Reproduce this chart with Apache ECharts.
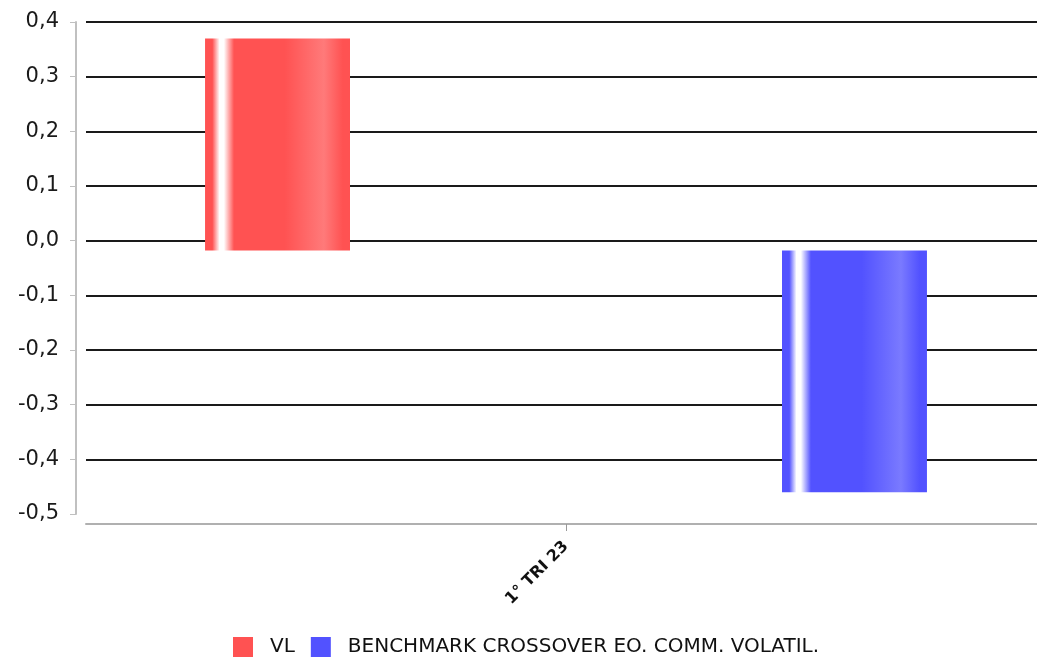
<!DOCTYPE html>
<html>
<head>
<meta charset="utf-8">
<script src="https://cdn.jsdelivr.net/npm/echarts@6/dist/echarts.min.js"></script>
<style>
  html, body { margin: 0; padding: 0; background: #ffffff; }
  #chart { width: 1037px; height: 660px; }
</style>
</head>
<body>
<div id="chart"></div>
<script>
// Quarterly performance: fund (VL) vs. its benchmark
const categories = ['1° TRI 23'];
const vlValues = [0.37];
const benchmarkValues = [-0.46];
const seriesNames = ['VL', 'BENCHMARK CROSSOVER EO. COMM. VOLATIL.'];
// bars are drawn up from this floor value rather than from zero
const BAR_BASE = -0.018;
const yTicks = { min: -0.5, max: 0.4, interval: 0.1 };

const FONT = 'DejaVu Sans, Liberation Sans, sans-serif';

function barGradient(main, light) {
  return {
    type: 'linear', x: 0, y: 0, x2: 1, y2: 0,
    colorStops: [
      { offset: 0.00, color: main },
      { offset: 0.05, color: main },
      { offset: 0.10, color: '#ffffff' },
      { offset: 0.13, color: '#ffffff' },
      { offset: 0.20, color: main },
      { offset: 0.55, color: main },
      { offset: 0.82, color: light },
      { offset: 0.95, color: main },
      { offset: 1.00, color: main }
    ]
  };
}

// offset and width are fractions of the category band
function barRenderer(offsetFrac, widthFrac, fill) {
  return function (params, api) {
    const cat = api.value(0);
    const val = api.value(1);
    const tip = api.coord([cat, val]);
    const base = api.coord([cat, BAR_BASE]);
    const band = api.size([1, 0])[0];
    const w = band * widthFrac;
    const cx = tip[0] + band * offsetFrac;
    return {
      type: 'rect',
      shape: {
        x: cx - w / 2,
        y: Math.min(tip[1], base[1]),
        width: w,
        height: Math.abs(base[1] - tip[1])
      },
      style: { fill: fill }
    };
  };
}

const chart = echarts.init(document.getElementById('chart'));
chart.setOption({
  animation: false,
  backgroundColor: '#ffffff',
  grid: { left: 86, top: 22, width: 960, height: 492, outerBoundsMode: 'none' },
  legend: {
    left: 233, top: 637, padding: 0,
    icon: 'rect', itemWidth: 20, itemHeight: 20, itemGap: 16,
    textStyle: { fontFamily: FONT, fontSize: 20, color: '#111', padding: [2, 0, 0, 12] },
    data: seriesNames
  },
  xAxis: {
    type: 'category',
    data: categories,
    offset: 10,
    boundaryGap: true,
    axisLine: { onZero: false, lineStyle: { color: '#b0b0b0', width: 2 } },
    axisTick: { show: true, interval: 0, alignWithLabel: true, length: 7, lineStyle: { color: '#999999', width: 1 } },
    axisLabel: { rotate: 45, fontFamily: FONT, fontSize: 16, fontWeight: 'bold', color: '#111', margin: 20 },
    splitLine: { show: false }
  },
  yAxis: {
    type: 'value',
    min: yTicks.min, max: yTicks.max, interval: yTicks.interval,
    offset: 10,
    axisLine: { show: true, lineStyle: { color: '#c0c0c0', width: 2 } },
    axisTick: { show: true, length: 6, lineStyle: { color: '#c0c0c0' } },
    axisLabel: {
      margin: 17, fontFamily: FONT, fontSize: 21, color: '#1a1a1a',
      formatter: v => v.toFixed(1).replace('.', ',')
    },
    splitLine: { showMinLine: false, lineStyle: { color: '#1a1a1a', width: 2 } }
  },
  series: [
    {
      name: seriesNames[0],
      type: 'custom',
      itemStyle: { color: '#ff5252' },
      renderItem: barRenderer(-0.3005, 0.151, barGradient('#ff5252', '#ff7a7a')),
      encode: { x: 0, y: 1 },
      data: categories.map((c, i) => [i, vlValues[i]])
    },
    {
      name: seriesNames[1],
      type: 'custom',
      itemStyle: { color: '#5252ff' },
      renderItem: barRenderer(0.3005, 0.151, barGradient('#5252ff', '#7a7aff')),
      encode: { x: 0, y: 1 },
      data: categories.map((c, i) => [i, benchmarkValues[i]])
    }
  ]
});
</script>
</body>
</html>
